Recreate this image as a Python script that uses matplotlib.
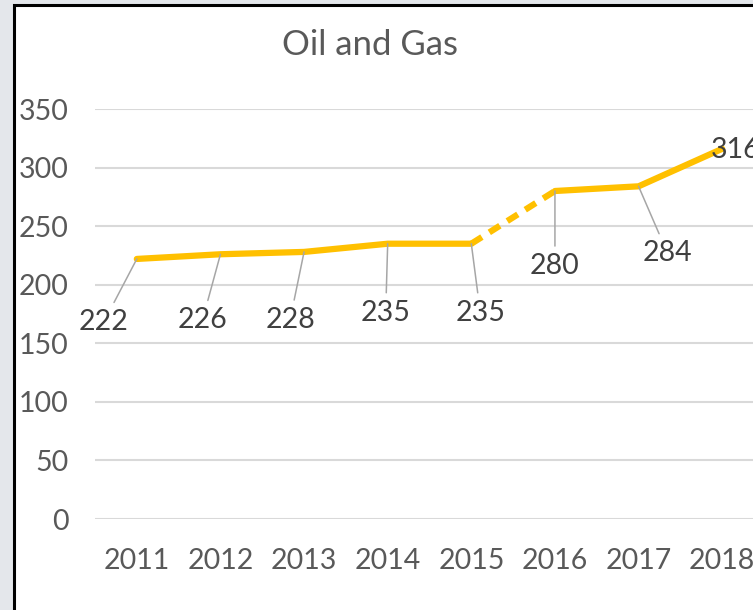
import matplotlib.pyplot as plt
from matplotlib.patches import Rectangle

years = ['2011', '2012', '2013', '2014', '2015', '2016', '2017', '2018']
values = [222, 226, 228, 235, 235, 280, 284, 316]
yticks = [0, 50, 100, 150, 200, 250, 300, 350]

# label offsets in pixels from each point (dx, dy)
label_offsets = [(-33, -63), (-18, -66), (-14, -68), (-2, -69),
                 (9, -69), (0, -75), (29, -67), (13, -1)]

plt.rcParams['font.family'] = ['Lato', 'DejaVu Sans']

W, H = 753, 610
fig = plt.figure(figsize=(W / 100, H / 100), dpi=100)
fig.patch.set_facecolor('#e4e7eb')

# white chart area with black border (cut off at right/bottom)
fig.patches.append(Rectangle((14 / W, -0.1), 1.2, (H - 5) / H + 0.1,
                             transform=fig.transFigure, facecolor='white',
                             edgecolor='black', linewidth=2.2, zorder=-1))

ax = fig.add_axes([95 / W, (H - 519) / H, 669 / W, 410 / H])
ax.set_facecolor('none')
x = list(range(len(years)))

ax.set_xlim(-0.5, len(years) - 0.5)
ax.set_ylim(0, 350)
ax.set_yticks(yticks)
ax.set_xticks(x)
ax.set_xticklabels(years)
ax.yaxis.grid(True, color='#d9d9d9', linewidth=1.5)
ax.set_axisbelow(True)
for s in ax.spines.values():
    s.set_visible(False)
ax.tick_params(length=0, labelsize=20.5, labelcolor='#595959')
ax.tick_params(axis='y', pad=19)
ax.tick_params(axis='x', pad=21)

col = '#FFC000'
lw = 4.5
ax.plot(x[:5], values[:5], color=col, lw=lw, solid_capstyle='round', solid_joinstyle='round')
ax.plot(x[4:6], values[4:6], color=col, lw=lw, linestyle=(0, (2.0, 1.4)), dash_capstyle='butt')
ax.plot(x[5:], values[5:], color=col, lw=lw, solid_capstyle='round', solid_joinstyle='round')

for i, (v, off) in enumerate(zip(values, label_offsets)):
    arrow = None
    if abs(off[1]) > 20:
        arrow = dict(arrowstyle='-', color='#a6a6a6', lw=1.1, shrinkA=3, shrinkB=0)
    ax.annotate(str(v), xy=(i, v), xytext=off, textcoords='offset pixels',
                ha='center', va='center', fontsize=20.5, color='#404040',
                arrowprops=arrow, annotation_clip=False)

fig.text(370 / W, (H - 45) / H, 'Oil and Gas', ha='center', va='center',
         fontsize=25, color='#595959')

fig.savefig('out.png', dpi=100, facecolor=fig.get_facecolor())
